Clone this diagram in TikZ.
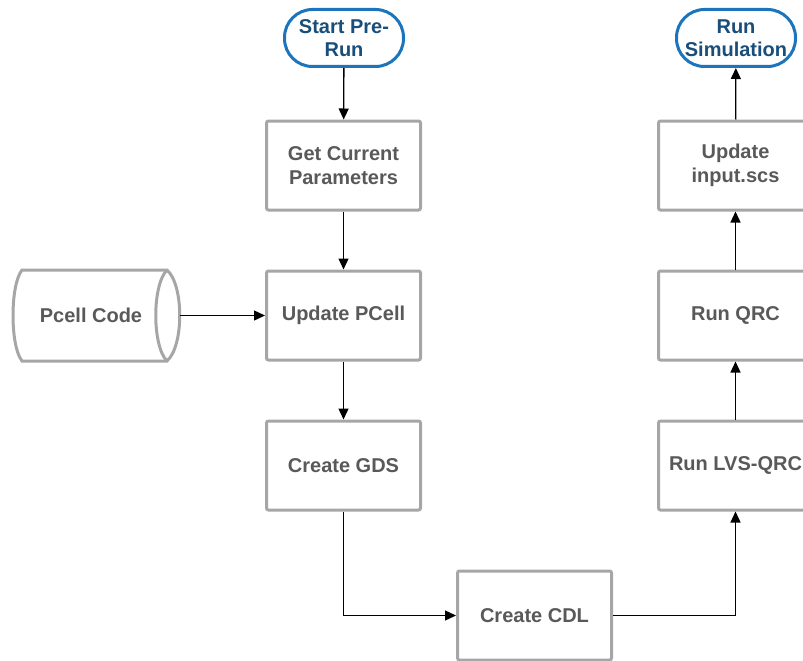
\documentclass[tikz,border=0pt]{standalone}
\usepackage{fontspec}
\setmainfont{Liberation Sans}
\usetikzlibrary{arrows.meta}
\definecolor{boxgray}{HTML}{A6A6A6}
\definecolor{txtgray}{HTML}{595959}
\definecolor{termblue}{HTML}{1C75BC}
\definecolor{termtxt}{HTML}{1A4E7A}
\tikzset{
  procbox/.style={draw=boxgray, line width=3pt, rounded corners=2pt, fill=white,
    minimum width=154pt, minimum height=89pt, inner sep=0pt, align=center,
    text=txtgray, font=\fontsize{20}{23.5}\selectfont\bfseries},
  termbox/.style={draw=termblue, line width=3pt, rounded corners=28pt, fill=white,
    minimum width=119pt, minimum height=57pt, inner sep=0pt, align=center,
    text=termtxt, font=\fontsize{20}{23}\selectfont\bfseries},
  dbtext/.style={minimum width=178pt, minimum height=91pt, inner sep=0pt,
    text=txtgray, font=\fontsize{20}{23.5}\selectfont\bfseries},
  dbshape/.style={draw=boxgray, line width=3pt, fill=white},
  conn/.style={draw=black, line width=1.3pt, -{Triangle[length=11pt,width=10pt]}}
}
\begin{document}
\begin{tikzpicture}[x=1pt, y=-1pt]
  \useasboundingbox (0,0) rectangle (803,661);

  % left column
  \node[termbox] (start) at (344,38) {Start Pre-\\Run};
  \node[procbox] (getpar) at (343.5,165.5) {Get Current\\Parameters};
  \node[procbox] (updpcell) at (343.5,315.5) {Update PCell};
  \node[procbox] (gds) at (343.5,465.5) {Create GDS};

  % bottom
  \node[procbox] (cdl) at (534.5,615.5) {Create CDL};

  % right column
  \node[procbox] (lvs) at (735.5,465.5) {Run LVS-QRC};
  \node[procbox] (qrc) at (735.5,315.5) {Run QRC};
  \node[procbox] (scs) at (735.5,165.5) {Update\\input.scs};
  \node[termbox] (sim) at (736,38) {Run\\Simulation};

  % stored-data cylinder
  \path[dbshape] (22,270) -- (167,270)
     .. controls (184,285) and (184,346) .. (167,361)
     -- (22,361)
     .. controls (10,346) and (10,285) .. (22,270) -- cycle;
  \draw[dbshape, fill=none] (167,270) .. controls (152,285) and (152,346) .. (167,361);
  \node[dbtext] (pcell) at (91,315.5) {Pcell Code};

  % connectors
  \draw[conn] (start) -- (getpar);
  \draw[conn] (getpar) -- (updpcell);
  \draw[conn] (pcell.east) -- (updpcell.west);
  \draw[conn] (updpcell) -- (gds);
  \draw[conn] (gds.south) |- (cdl.west);
  \draw[conn] (cdl.east) -| (lvs.south);
  \draw[conn] (lvs) -- (qrc);
  \draw[conn] (qrc) -- (scs);
  \draw[conn] (scs) -- (sim);
\end{tikzpicture}
\end{document}
